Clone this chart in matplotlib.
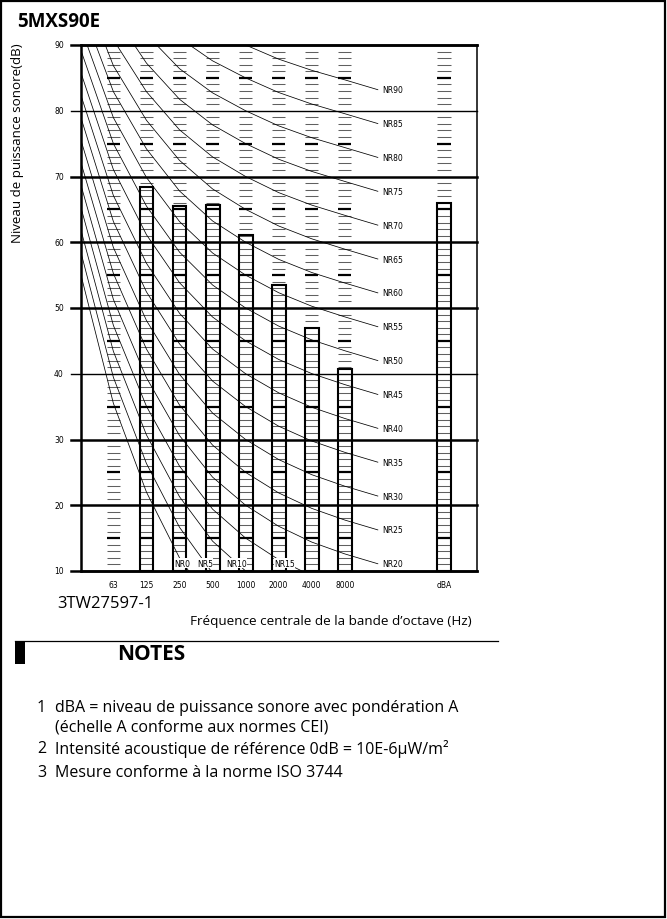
import matplotlib
matplotlib.use('Agg')
import matplotlib.pyplot as plt
from matplotlib.patches import Rectangle
import numpy as np

plt.rcParams['font.family'] = ['Open Sans', 'DejaVu Sans']

# octave bands (column positions are just the index)
bands = ['63', '125', '250', '500', '1000', '2000', '4000', '8000', 'dBA']
band_pos = [0, 1, 2, 3, 4, 5, 6, 7, 10]

# measured sound power levels (dB), 125 Hz .. 8000 Hz, then dBA
bar_bands = ['125', '250', '500', '1000', '2000', '4000', '8000', 'dBA']
bar_pos = [1, 2, 3, 4, 5, 6, 7, 10]
bar_values = [68.4, 65.5, 65.7, 61.1, 53.5, 47.0, 40.7, 66.0]

# NR curve table L = a + b*NR, 31.5 Hz .. 16 kHz
nr_pos = [-1, 0, 1, 2, 3, 4, 5, 6, 7, 8]
nr_a = [55.4, 35.5, 22.0, 12.0, 4.8, 0.0, -3.5, -6.1, -8.0, -9.5]
nr_b = [0.681, 0.790, 0.870, 0.930, 0.974, 1.000, 1.015, 1.025, 1.030, 1.030]
nr_levels = [0, 5, 10, 15, 20, 25, 30, 35, 40, 45, 50, 55, 60, 65, 70, 75, 80, 85, 90]

yticks = [10, 20, 30, 40, 50, 60, 70, 80, 90]
thin_grid = [40, 80]

W, H = 667, 920
fig = plt.figure(figsize=(W / 100, H / 100), dpi=100)


def px(x, y):
    return x / W, 1 - y / H


# outer frame
fig.patches.append(Rectangle((0.002, 0.002), 0.995, 0.996, transform=fig.transFigure,
                             fill=False, lw=1.6, ec='black'))

ax = fig.add_axes([81 / W, 1 - 572 / H, (477 - 81) / W, (572 - 46) / H])
ax.set_xlim(-0.98, 11.0)
ax.set_ylim(10, 90)
ax.set_xticks([])
ax.set_yticks([])
for s in ['top', 'bottom', 'left']:
    ax.spines[s].set_linewidth(1.8)
ax.spines['right'].set_linewidth(1.1)

# horizontal grid, sticking out a little to the left
for v in yticks:
    lw = 1.0 if v in thin_grid else 1.8
    ax.plot([-1.27, 11.0], [v, v], color='black', lw=lw, clip_on=False, zorder=3)
    ax.text(-1.5, v, str(v), ha='right', va='center', fontsize=5.5,
            family='DejaVu Sans', clip_on=False)

# dash scales in every column
dw = 0.2
for p in band_pos:
    lv = np.arange(11, 90)
    thin = [v for v in lv if v % 5 != 0]
    thick = [v for v in lv if v % 5 == 0 and v % 10 != 0]
    ax.hlines(thin, p - dw, p + dw, color='#606060', lw=0.75, zorder=2)
    ax.hlines(thick, p - dw, p + dw, color='black', lw=1.6, zorder=2)

# bars
ax.bar(bar_pos, np.array(bar_values) - 10, bottom=10, width=0.42,
       facecolor='none', edgecolor='black', lw=1.5, zorder=4)

# NR curves
xs = np.array(nr_pos)
for nr in nr_levels:
    ys = np.array(nr_a) + np.array(nr_b) * nr
    ax.plot(xs, ys, color='black', lw=0.55, zorder=3)
    if nr >= 20:
        ax.text(8.12, ys[-1], 'NR%d' % nr, ha='left', va='center', fontsize=5.5,
                family='DejaVu Sans', zorder=6)
    else:
        xl = np.interp(11.3, ys[::-1], xs[::-1])
        ax.text(xl, 11.2, 'NR%d' % nr, ha='center', va='center', fontsize=5.5,
                family='DejaVu Sans', zorder=6,
                bbox=dict(facecolor='white', edgecolor='none', pad=0.3))

# x labels
for p, b in zip(band_pos, bands):
    ax.text(p, 8.0, b, ha='center', va='center', fontsize=5.5,
            family='DejaVu Sans', clip_on=False)

# texts
fig.text(*px(17, 22), '5MXS90E', fontsize=13.5, fontweight='bold', ha='left', va='center')
fig.text(*px(18, 143), 'Niveau de puissance sonore(dB)', fontsize=9.6, rotation=90,
         ha='center', va='center')
fig.text(*px(57, 604), '3TW27597-1', fontsize=12, ha='left', va='center')
fig.text(*px(190, 621), 'Fréquence centrale de la bande d\u2019octave (Hz)', fontsize=9.7,
         ha='left', va='center')

# notes block
fig.add_artist(plt.Line2D([15 / W, 498 / W], [1 - 642 / H, 1 - 642 / H], color='black', lw=0.9))
fig.patches.append(Rectangle(px(15, 665), 10 / W, 23 / H, transform=fig.transFigure,
                             fc='black', ec='none'))
fig.text(*px(117, 654), 'NOTES', fontsize=15, fontweight='bold', ha='left', va='center')

notes = [
    ('1', 708, 'dBA = niveau de puissance sonore avec pondération A'),
    ('', 727, '(échelle A conforme aux normes CEI)'),
    ('2', 749, 'Intensité acoustique de référence 0dB = 10E-6\u00b5W/m\u00b2'),
    ('3', 773, 'Mesure conforme à la norme ISO 3744'),
]
for num, y, txt in notes:
    if num:
        fig.text(*px(37, y), num, fontsize=11.5, ha='left', va='center')
    fig.text(*px(55, y), txt, fontsize=11.5, ha='left', va='center')

fig.savefig('out.png', dpi=100)
